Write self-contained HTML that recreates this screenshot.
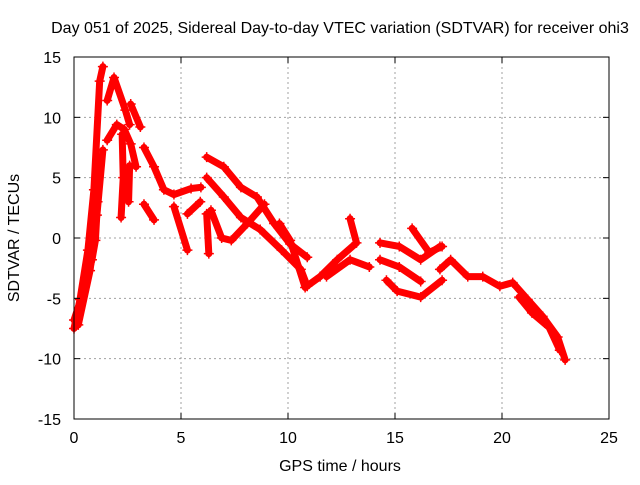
<!DOCTYPE html>
<html><head><meta charset="utf-8"><style>
body{margin:0;background:#fff;}
svg text{font-family:"Liberation Sans",sans-serif;font-size:16px;fill:#000;}
</style></head><body>
<svg id="chart" width="640" height="480" viewBox="0 0 640 480" xmlns="http://www.w3.org/2000/svg">
<rect width="640" height="480" fill="#fff"/>
<g id="grid"></g>
<g id="series"></g>
<rect x="74" y="57" width="535" height="362" fill="none" stroke="#000" stroke-width="1"/>
<g id="ticks"></g>
<text x="340" y="33" text-anchor="middle">Day 051 of 2025, Sidereal Day-to-day VTEC variation (SDTVAR) for receiver ohi3</text>
<text x="340" y="471" text-anchor="middle">GPS time / hours</text>
<text x="19" y="238" text-anchor="middle" transform="rotate(-90 19 238)">SDTVAR / TECUs</text>
</svg>
<script>
const xTicks=[0,5,10,15,20,25];
const yTicks=[-15,-10,-5,0,5,10,15];
const trackA=[[0,-7.5],[0.28,-5.1],[0.65,-1],[0.93,4],[1.2,13],[1.35,14.2]];
const trackB=[[0.2,-7.2],[0.75,-2.7],[1.07,1.9],[1.35,7.3]];
const trackR=[[0,-6.8],[0.47,-4.3],[0.84,-1.8],[1.0,-0.2],[1.1,3]];
const trackC=[[1.55,11.4],[1.87,13.3],[2.4,10.6],[2.6,9.4]];
const trackC2=[[2.65,11.1],[3.1,9.2]];
const trackD=[[1.55,8.1],[2.0,9.4],[2.35,9],[2.65,7.8],[2.9,5.9]];
const trackD2=[[2.25,8.6],[2.3,5],[2.2,1.7]];
const trackD3=[[2.6,6],[2.55,3]];
const trackE=[[3.27,7.5],[3.74,5.9],[4.2,4],[4.67,3.6],[5.47,4.1],[5.93,4.2]];
const trackF=[[3.27,2.8],[3.74,1.5]];
const trackF2=[[4.67,2.6],[5.3,-1]];
const trackF3=[[5.3,2],[5.9,3]];
const trackG=[[6.2,6.7],[7.0,5.9],[7.8,4.2],[8.55,3.4],[9.35,1.2],[10.1,-0.5],[10.9,-1.6]];
const trackH=[[6.2,5],[7.0,3.4],[7.8,1.7],[8.7,0.7],[9.7,-1],[10.6,-2.6],[10.9,-4]];
const trackI=[[6.4,2.3],[6.9,0],[7.35,-0.2],[8.1,1.2],[8.9,2.8]];
const trackI2=[[6.2,2],[6.3,-1.3]];
const trackJ=[[9.6,1.2],[10.1,-0.2],[10.8,-4.1],[11.5,-3.2],[12.3,-1.8],[13.2,-0.4],[12.9,1.6]];
const trackK=[[11.8,-3.2],[12.9,-1.8],[13.8,-2.4]];
const trackL=[[14.3,-0.4],[15.2,-0.7],[16.2,-1.8],[17.1,-0.7]];
const trackM=[[14.3,-1.8],[15.2,-2.4],[16.2,-3.6]];
const trackN=[[14.6,-3.5],[15.1,-4.4],[16.2,-4.9],[17.2,-3.5]];
const trackO=[[15.8,0.8],[16.6,-1.2],[17.2,-0.7]];
const trackP=[[17.1,-2.6],[17.6,-1.8],[18.4,-3.2],[19.1,-3.2],[19.9,-4],[20.5,-3.7],[21.2,-5.1],[21.9,-6.5],[22.6,-8.2],[22.95,-10.1]];
const trackQ=[[20.8,-4.9],[21.4,-6.2],[22.2,-7.4],[22.7,-9.3]];
const tracks=[trackA,trackB,trackR,trackC,trackC2,trackD,trackD2,trackD3,trackE,trackF,trackF2,trackF3,trackG,trackH,trackI,trackI2,trackJ,trackK,trackL,trackM,trackN,trackO,trackP,trackQ];

const X0=74,X1=609,Y0=419,Y1=57;
const xs=t=>X0+(t-0)/(25-0)*(X1-X0);
const ys=v=>Y0-(v+15)/30*(Y0-Y1);
const NS="http://www.w3.org/2000/svg";
const mk=(tag,attrs,parent)=>{const e=document.createElementNS(NS,tag);for(const k in attrs)e.setAttribute(k,attrs[k]);parent.appendChild(e);return e;};
const grid=document.getElementById('grid'),ticks=document.getElementById('ticks'),series=document.getElementById('series');
xTicks.forEach(t=>{
  const x=xs(t);
  if(t>0&&t<25){const g=mk('line',{x1:x,x2:x,y1:Y1,y2:Y0,stroke:'#a0a0a0','stroke-dasharray':'2,3'},grid);
  
  }
  mk('line',{x1:x,x2:x,y1:Y0,y2:Y0-6,stroke:'#000'},ticks);
  mk('line',{x1:x,x2:x,y1:Y1,y2:Y1+6,stroke:'#000'},ticks);
  const l=mk('text',{x:x,y:Y0+24,'text-anchor':'middle'},ticks);l.textContent=t;
  
  
});
yTicks.forEach(v=>{
  const y=ys(v);
  if(v>-15&&v<15){const g=mk('line',{x1:X0,x2:X1,y1:y,y2:y,stroke:'#a0a0a0','stroke-dasharray':'2,3'},grid);
  
  }
  mk('line',{x1:X0,x2:X0+6,y1:y,y2:y,stroke:'#000'},ticks);
  mk('line',{x1:X1,x2:X1-6,y1:y,y2:y,stroke:'#000'},ticks);
  const l=mk('text',{x:X0-13,y:y+6,'text-anchor':'end'},ticks);l.textContent=v;
  
  
});
tracks.forEach(tr=>{
  const p=mk('polyline',{points:tr.map(d=>xs(d[0])+','+ys(d[1])).join(' '),fill:'none',stroke:'#ff0000','stroke-width':7,'stroke-linejoin':'round','stroke-linecap':'round'},series);
  
  
  tr.forEach(d=>{
    const x=xs(d[0]),y=ys(d[1]);
    const m=mk('path',{d:`M${x-5},${y}h10M${x},${y-5}v10`,stroke:'#ff0000','stroke-width':1.5},series);
    
    
  });
});
</script>
</body></html>
